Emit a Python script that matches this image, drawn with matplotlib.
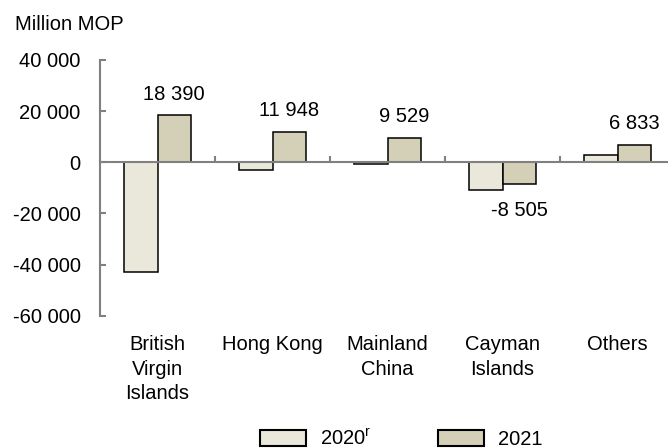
import matplotlib
matplotlib.use("Agg")
import matplotlib.pyplot as plt
from matplotlib.patches import Patch
from matplotlib.transforms import blended_transform_factory

plt.rcParams['font.family'] = ['Liberation Sans', 'DejaVu Sans']
plt.rcParams['font.size'] = 14.5

# data (million MOP)
categories = ['British\nVirgin\nIslands', 'Hong Kong', 'Mainland\nChina', 'Cayman\nIslands', 'Others']
vals_2020 = [-42900, -3000, -800, -10800, 2800]
vals_2021 = [18390, 11948, 9529, -8505, 6833]
series_names = ['2020$^\\mathregular{r}$', '2021']

col_2020 = '#EAE8DA'
col_2021 = '#D4CFB7'
grey = '#808080'

fig = plt.figure(figsize=(6.68, 4.48), dpi=100)
ax = fig.add_axes([100/668, (448-315.7)/448, 575/668, (315.7-60)/448])

x = list(range(len(categories)))
w = 0.29
ax.bar([i - w/2 for i in x], vals_2020, width=w, color=col_2020, edgecolor='black', linewidth=1.1, zorder=2)
ax.bar([i + w/2 for i in x], vals_2021, width=w, color=col_2021, edgecolor='black', linewidth=1.1, zorder=2)

# labels on 2021 bars
for i, v in zip(x, vals_2021):
    lab = f"{v:,}".replace(',', ' ')
    if v >= 0:
        ax.annotate(lab, (i + w/2, v), xytext=(0, 11.3), textcoords='offset points',
                    ha='center', va='baseline')
    else:
        ax.annotate(lab, (i + w/2, v), xytext=(0, -22.8), textcoords='offset points',
                    ha='center', va='baseline')

ax.set_xlim(-0.5, 4.5)
ax.set_ylim(-60000, 40000)
yt = [-60000, -40000, -20000, 0, 20000, 40000]
ax.set_yticks(yt)
ax.set_yticklabels([f"{t:,}".replace(',', ' ') for t in yt])

for s in ['top', 'right']:
    ax.spines[s].set_visible(False)
ax.spines['left'].set_color(grey)
ax.spines['left'].set_linewidth(1.5)
ax.spines['bottom'].set_position(('data', 0))
ax.spines['bottom'].set_color(grey)
ax.spines['bottom'].set_linewidth(1.5)
ax.spines['bottom'].set_zorder(3)

ax.set_xticks([i + 0.5 for i in x])
ax.set_xticklabels([])
ax.tick_params(axis='x', direction='in', length=4.5, width=1.5, color=grey)
ax.tick_params(axis='y', direction='in', length=4.5, width=1.5, color=grey, pad=14)

trans = blended_transform_factory(ax.transData, ax.transAxes)
for i, c in zip(x, categories):
    ax.text(i, -0.075, c, transform=trans, ha='center', va='top', linespacing=1.38)

fig.text(15/668, (448-30)/448, 'Million MOP', ha='left', va='baseline')

handles = [Patch(facecolor=col_2020, edgecolor='black', linewidth=1.5),
           Patch(facecolor=col_2021, edgecolor='black', linewidth=1.5)]
fig.legend(handles, series_names, loc='center', bbox_to_anchor=(401/668, 9/448), ncol=2,
           frameon=False, handlelength=2.28, handleheight=0.8, handletextpad=0.7,
           columnspacing=3.3, borderpad=0, borderaxespad=0)

fig.savefig('out.png', dpi=100)
